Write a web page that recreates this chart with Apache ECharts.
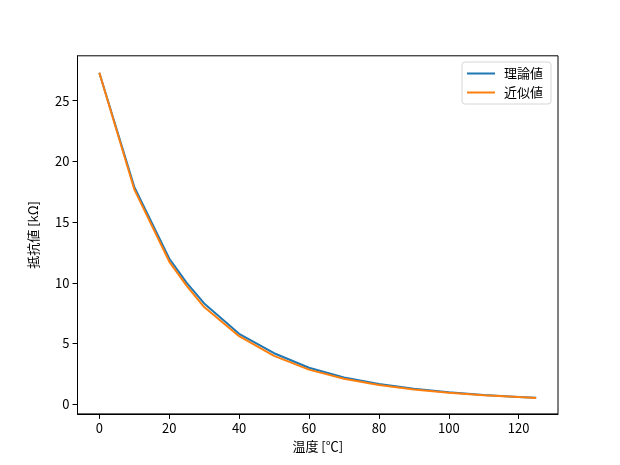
<!DOCTYPE html>
<html>
<head>
<meta charset="utf-8">
<script src="https://cdn.jsdelivr.net/npm/echarts@6/dist/echarts.min.js"></script>
<style>html,body{margin:0;padding:0;background:#fff}#c{width:620px;height:465px}</style>
</head>
<body>
<div id="c"></div>
<script>
const temps = [0, 10, 20, 25, 30, 40, 50, 60, 70, 80, 90, 100, 110, 120, 125];
const theory = [27.3, 17.9, 12.0, 10.0, 8.3, 5.8, 4.2, 3.0, 2.2, 1.67, 1.27, 0.98, 0.76, 0.6, 0.53];
const approx = [27.3, 17.7, 11.75, 9.75, 8.0, 5.6, 3.98, 2.85, 2.1, 1.58, 1.21, 0.94, 0.74, 0.59, 0.52];
const xTicks = [0, 20, 40, 60, 80, 100, 120];
const yTicks = [0, 5, 10, 15, 20, 25];
const seriesNames = ['理論値', '近似値'];
const xName = '温度 [℃]';
const yName = '抵抗値 [kΩ]';

const font = '"Noto Sans CJK JP", "DejaVu Sans", sans-serif';
const chart = echarts.init(document.getElementById('c'));
const pair = (xs, ys) => xs.map((x, i) => [x, ys[i]]);
chart.setOption({
  animation: false,
  textStyle: { fontFamily: font },
  grid: { left: 77.5, right: 62, top: 55.8, bottom: 51.1, show: true, borderColor: '#000', borderWidth: 1 },
  legend: {
    right: 69, top: 62, orient: 'vertical',
    itemWidth: 28, itemHeight: 2, itemGap: 6, icon: 'rect',
    padding: [5, 8, 5, 5],
    borderColor: '#d6d6d6', borderWidth: 1, borderRadius: 3,
    backgroundColor: 'rgba(255,255,255,0.8)',
    textStyle: { fontFamily: font, fontSize: 13, color: '#000', padding: [0, 0, 0, 4] },
    data: seriesNames
  },
  xAxis: {
    type: 'value', min: -6.25, max: 131.25,
    name: xName, nameLocation: 'middle', nameGap: 26,
    nameTextStyle: { fontFamily: font, fontSize: 13, color: '#000' },
    axisLine: { show: true, onZero: false, lineStyle: { color: '#000', width: 1 } },
    axisTick: { show: true, length: 5, customValues: xTicks, lineStyle: { color: '#000' } },
    axisLabel: { customValues: xTicks, fontSize: 13, color: '#000', margin: 8, fontFamily: font },
    splitLine: { show: false }
  },
  yAxis: {
    type: 'value', min: -0.8, max: 28.7,
    name: yName, nameLocation: 'middle', nameGap: 38, nameRotate: 90,
    nameTextStyle: { fontFamily: font, fontSize: 13, color: '#000' },
    axisLine: { show: true, onZero: false, lineStyle: { color: '#000', width: 1 } },
    axisTick: { show: true, length: 5, customValues: yTicks, lineStyle: { color: '#000' } },
    axisLabel: { customValues: yTicks, fontSize: 13, color: '#000', margin: 8, fontFamily: font },
    splitLine: { show: false }
  },
  series: [
    { name: seriesNames[0], type: 'line', data: pair(temps, theory), showSymbol: false, symbol: 'none',
      lineStyle: { color: '#1f77b4', width: 2 }, itemStyle: { color: '#1f77b4' } },
    { name: seriesNames[1], type: 'line', data: pair(temps, approx), showSymbol: false, symbol: 'none',
      lineStyle: { color: '#ff7f0e', width: 2 }, itemStyle: { color: '#ff7f0e' } }
  ]
});
</script>
</body>
</html>
